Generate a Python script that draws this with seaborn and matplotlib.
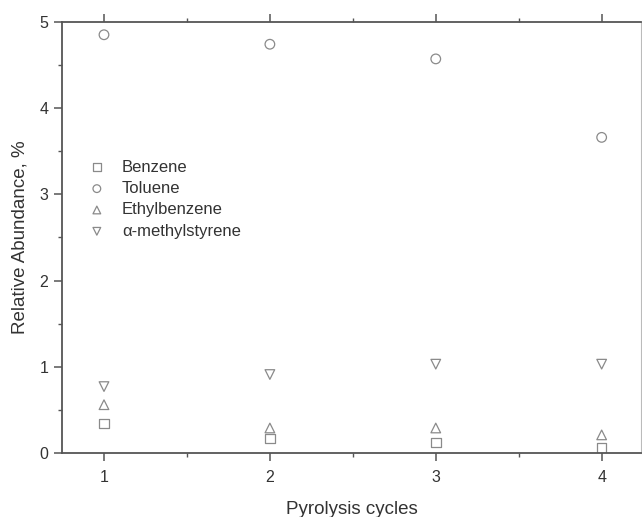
import matplotlib
matplotlib.use("Agg")
import matplotlib.pyplot as plt
from matplotlib.ticker import MultipleLocator
import seaborn as sns

cycles = [1, 2, 3, 4]
series_names = ["Benzene", "Toluene", "Ethylbenzene", "\u03b1-methylstyrene"]
benzene = [0.34, 0.17, 0.12, 0.06]
toluene = [4.85, 4.74, 4.57, 3.66]
ethylbenzene = [0.56, 0.29, 0.29, 0.21]
methylstyrene = [0.77, 0.91, 1.03, 1.03]
x_ticks = [1, 2, 3, 4]
y_ticks = [0, 1, 2, 3, 4, 5]

sns.set_theme(style="white")
plt.rcParams['font.family'] = ['Liberation Sans', 'DejaVu Sans']

fig = plt.figure(figsize=(6.42, 5.17), dpi=100)
ax = fig.add_axes([0.0966, 0.1238, 0.9018, 0.834])

markers = ['s', 'o', '^', 'v']
values = [benzene, toluene, ethylbenzene, methylstyrene]
mcol = '#8a8a8a'
for name, vals, m in zip(series_names, values, markers):
    sns.scatterplot(x=cycles, y=vals, marker=m, s=48, facecolors='none',
                    edgecolors=mcol, linewidths=0.9, label=name, ax=ax)

ax.set_xlim(0.747, 4.237)
ax.set_ylim(0, 5)
ax.set_xticks(x_ticks)
ax.set_yticks(y_ticks)
ax.xaxis.set_minor_locator(MultipleLocator(0.5))
ax.yaxis.set_minor_locator(MultipleLocator(0.5))

spine_col = '#555555'
for s in ['left', 'bottom', 'top']:
    ax.spines[s].set_color(spine_col)
    ax.spines[s].set_linewidth(1.3)
ax.spines['right'].set_color('#bbbbbb')
ax.spines['right'].set_linewidth(0.8)

ax.tick_params(axis='x', which='both', direction='out', bottom=True, top=True,
               colors=spine_col, labelcolor='#333333', labelsize=11.5, pad=6)
ax.tick_params(axis='y', which='both', direction='out', left=True, right=False,
               colors=spine_col, labelcolor='#333333', labelsize=11.5, pad=4)
ax.tick_params(which='major', length=6, width=1.1)
ax.tick_params(which='minor', length=3, width=1.0)

ax.set_xlabel("Pyrolysis cycles", fontsize=13.5, color='#333333', labelpad=12)
ax.set_ylabel("Relative Abundance, %", fontsize=13.5, color='#333333', labelpad=8)

leg = ax.legend(loc='upper left', bbox_to_anchor=(0.04, 0.688), frameon=False,
                fontsize=12, handlelength=1.0, handletextpad=1.0,
                borderaxespad=0, borderpad=0.2, labelspacing=0.38, markerscale=0.8)
for t in leg.get_texts():
    t.set_color('#333333')

fig.savefig("out.png", dpi=100)
